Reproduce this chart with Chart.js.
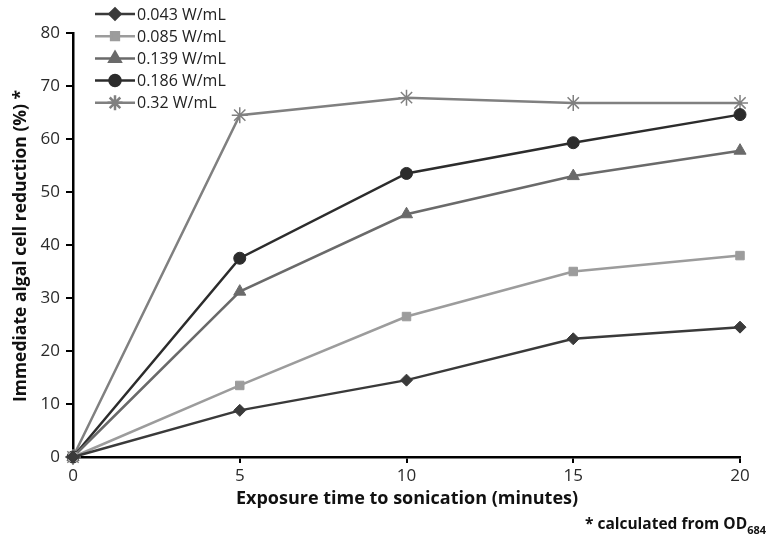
<!DOCTYPE html>
<html><head><meta charset="utf-8">
<script src="https://cdn.jsdelivr.net/npm/chart.js@4.4.0/dist/chart.umd.min.js"></script>
<style>html,body{margin:0;padding:0;background:#fff}#wrap{width:769px;height:540px}</style>
</head><body><div id="wrap"><canvas id="c" width="769" height="540"></canvas></div>
<script>
const times = [0, 5, 10, 15, 20];
const seriesNames = ['0.043 W/mL', '0.085 W/mL', '0.139 W/mL', '0.186 W/mL', '0.32 W/mL'];
const s043 = [0, 8.8, 14.5, 22.3, 24.5];
const s085 = [0, 13.5, 26.5, 35.0, 38.0];
const s139 = [0, 31.2, 45.8, 53.0, 57.8];
const s186 = [0, 37.5, 53.5, 59.3, 64.6];
const s032 = [0, 64.5, 67.8, 66.8, 66.8];
const xTicks = [0, 5, 10, 15, 20];
const yTicks = [0, 10, 20, 30, 40, 50, 60, 70, 80];

const colors = ['#3a3a3a', '#9c9c9c', '#6a6a6a', '#2c2c2c', '#808080'];
const styles = ['rectRot', 'rect', 'triangle', 'circle', 'star'];
const radii = [6, 6, 7, 6, 8];
const allSeries = [s043, s085, s139, s186, s032];

const datasets = allSeries.map((s, i) => ({
  label: seriesNames[i],
  data: s.map((v, j) => ({x: times[j], y: v})),
  borderColor: colors[i],
  backgroundColor: colors[i],
  pointBackgroundColor: colors[i],
  pointBorderColor: colors[i],
  pointStyle: styles[i],
  pointRadius: radii[i],
  pointBorderWidth: styles[i] === 'star' ? 1.5 : 1,
  borderWidth: 2.5,
  clip: false,
  tension: 0
}));

const FONT = "'Open Sans', sans-serif";

const overlay = {
  id: 'overlay',
  afterDraw(chart) {
    const ctx = chart.ctx;
    ctx.save();
    // legend
    chart.data.datasets.forEach((ds, i) => {
      const y = 14 + i * 22.2;
      ctx.strokeStyle = ds.borderColor;
      ctx.lineWidth = 2.5;
      ctx.beginPath(); ctx.moveTo(95, y); ctx.lineTo(135, y); ctx.stroke();
      ctx.fillStyle = ds.borderColor;
      ctx.strokeStyle = ds.borderColor;
      Chart.helpers.drawPoint(ctx, {pointStyle: ds.pointStyle, radius: ds.pointRadius - 0.5, borderWidth: ds.pointBorderWidth}, 115, y);
      ctx.fillStyle = '#222';
      ctx.font = "16px " + FONT;
      ctx.textAlign = 'left'; ctx.textBaseline = 'middle';
      ctx.fillText(ds.label, 137, y + 1);
    });
    // axis titles
    ctx.fillStyle = '#111';
    ctx.font = "bold 18px " + FONT;
    ctx.textAlign = 'center'; ctx.textBaseline = 'middle';
    ctx.fillText('Exposure time to sonication (minutes)', 407, 499);
    ctx.save();
    ctx.translate(21, 246);
    ctx.rotate(-Math.PI / 2);
    ctx.font = "bold 17.5px " + FONT;
    ctx.fillText('Immediate algal cell reduction (%) *', 0, 0);
    ctx.restore();
    // footnote
    ctx.textAlign = 'right'; ctx.textBaseline = 'alphabetic';
    const sub = '684';
    ctx.font = "bold 11px " + FONT;
    const sw = ctx.measureText(sub).width;
    ctx.fillText(sub, 766, 534);
    ctx.font = "bold 15.5px " + FONT;
    ctx.fillText('* calculated from OD', 766 - sw, 529);
    ctx.restore();
  }
};

new Chart(document.getElementById('c'), {
  type: 'line',
  data: { datasets },
  options: {
    responsive: false,
    animation: false,
    layout: { padding: { top: 33, right: 29, left: 0, bottom: 0 } },
    plugins: { legend: { display: false }, tooltip: { enabled: false } },
    scales: {
      x: {
        type: 'linear', min: 0, max: 20,
        afterFit(s) { s.height = 83; },
        afterBuildTicks(s) { s.ticks = xTicks.map(v => ({value: v})); },
        grid: { drawOnChartArea: false, drawTicks: true, tickLength: 6, color: '#000', lineWidth: 2 },
        border: { color: '#000', width: 2.5 },
        ticks: { color: '#2a2a2a', font: { size: 17, family: FONT }, padding: 3 }
      },
      y: {
        min: 0, max: 80,
        afterFit(s) { s.width = 73; },
        afterBuildTicks(s) { s.ticks = yTicks.map(v => ({value: v})); },
        grid: { drawOnChartArea: false, drawTicks: true, tickLength: 7, color: '#000', lineWidth: 2 },
        border: { color: '#000', width: 2.5 },
        ticks: { color: '#2a2a2a', font: { size: 17, family: FONT }, padding: 6 }
      }
    }
  },
  plugins: [overlay]
});
</script></body></html>
